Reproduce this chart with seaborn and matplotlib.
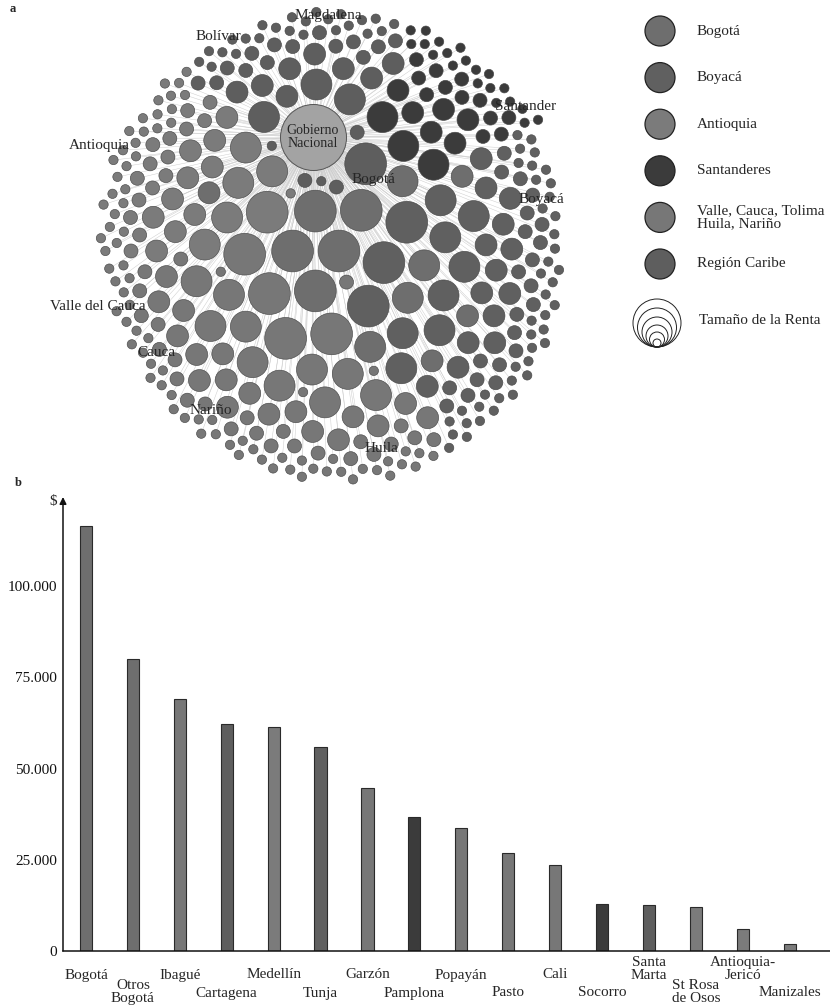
import numpy as np
import pandas as pd
import matplotlib
matplotlib.use("Agg")
import matplotlib.pyplot as plt
import seaborn as sns
from matplotlib.collections import LineCollection

# ---------------- datos ----------------
VALLE = "Valle, Cauca, Tolima\nHuila, Nariño"
regiones = ["Bogotá", "Boyacá", "Antioquia", "Santanderes", VALLE, "Región Caribe"]
grises = ["#6e6e6e", "#606060", "#7b7b7b", "#3b3b3b", "#777777", "#5e5e5e"]

# renta relativa de cada clase de nodo (de mayor a menor)
renta_clases = [40, 22, 11, 4.5, 2]
# número de nodos por clase de renta en cada región
nodos_bogota = [5, 4, 4, 0, 0]
nodos_boyaca = [3, 8, 14, 22, 42]
nodos_antioquia = [1, 5, 10, 15, 30]
nodos_santanderes = [0, 3, 6, 12, 20]
nodos_valle = [4, 10, 18, 25, 50]
nodos_caribe = [1, 3, 8, 17, 26]

etiquetas_red = ["Magdalena", "Bolívar", "Antioquia", "Santander", "Boyacá",
                 "Bogotá", "Valle del Cauca", "Cauca", "Nariño", "Huila"]

ciudades = ["Bogotá", "Otros\nBogotá", "Ibagué", "Cartagena", "Medellín", "Tunja",
            "Garzón", "Pamplona", "Popayán", "Pasto", "Cali", "Socorro",
            "Santa\nMarta", "St Rosa\nde Osos", "Antioquia-\nJericó", "Manizales"]
rentas = [116500, 80000, 69000, 62200, 61400, 55800, 44700, 36700,
          33600, 26800, 23700, 12900, 12700, 12100, 5900, 1900]
region_ciudad = ["Bogotá", "Bogotá", VALLE, "Región Caribe", "Antioquia", "Boyacá",
                 VALLE, "Santanderes", VALLE, VALLE, VALLE, "Santanderes",
                 "Región Caribe", "Antioquia", "Antioquia", "Antioquia"]
nivel_etiqueta = [0, 1, 0, 1, 0, 1, 0, 1, 0, 1, 0, 1, 0, 1, 0, 1]
yticks = [0, 25000, 50000, 75000, 100000]
ytick_labels = ["0", "25.000", "50.000", "75.000", "100.000"]

# ---------------- estilo ----------------
sns.set_theme(style="white")
plt.rcParams["font.family"] = ["Liberation Serif", "DejaVu Serif"]
paleta = dict(zip(regiones, grises))

W, H, DPI = 830, 1007, 100
fig = plt.figure(figsize=(W / DPI, H / DPI), dpi=DPI, facecolor="white")
PX2PT = 72.0 / DPI


def ax_px(x0, y0, w, h):
    """Axes placed in pixel units of the figure (origin top-left)."""
    return fig.add_axes([x0 / W, 1 - (y0 + h) / H, w / W, h / H])


# ---------------- red (panel a) ----------------
conteos = {"Bogotá": nodos_bogota, "Boyacá": nodos_boyaca, "Antioquia": nodos_antioquia,
           "Santanderes": nodos_santanderes, VALLE: nodos_valle,
           "Región Caribe": nodos_caribe}
sectores = {"Bogotá": (0, 360), "Boyacá": (-62, 33), "Antioquia": (130, 180),
            "Santanderes": (33, 72), VALLE: (180, 298), "Región Caribe": (72, 130)}

lista = []
for c, renta in enumerate(renta_clases):
    for reg in regiones:
        lista += [(reg, renta)] * conteos[reg][c]
nodos = pd.DataFrame(lista, columns=["region", "renta"])
nodos["r"] = 3.3 * np.sqrt(nodos["renta"])

HUB_R = 33.0
centro = (26.0, 114.0)     # centro de la nube respecto al nodo central


def empaquetar(radios, sect, centro, fijos, sep=4.0, paso=1.6):
    n = len(radios)
    cap = n + len(fijos)
    P = np.zeros((cap, 2)); R = np.zeros(cap); D = np.zeros(cap)
    k = 0
    for fx, fy, fr in fijos:
        P[k] = (fx, fy); R[k] = fr; D[k] = np.hypot(fx - centro[0], fy - centro[1]); k += 1
    pos = np.zeros((n, 2))
    for i in range(n):
        r = radios[i]
        a0, a1 = np.radians(sect[i][0]), np.radians(sect[i][1])
        mid = 0.5 * (a0 + a1)
        d = 0.0
        while True:
            m = max(1, int(np.ceil((a1 - a0) * d / paso)))
            ang = np.linspace(a0, a1, m) if m > 1 else np.array([mid])
            ang = ang[np.argsort(np.abs(ang - mid), kind="stable")]
            cx = centro[0] + d * np.cos(ang)
            cy = centro[1] - d * np.sin(ang)
            cerca = np.abs(D[:k] - d) < r + R[:k] + sep
            if cerca.any():
                Q = P[:k][cerca]; RQ = R[:k][cerca]
                dd = (cx[:, None] - Q[:, 0]) ** 2 + (cy[:, None] - Q[:, 1]) ** 2
                ok = np.all(dd >= (r + RQ + sep) ** 2, axis=1)
            else:
                ok = np.ones(len(ang), bool)
            if ok.any():
                j = int(np.argmax(ok))
                pos[i] = (cx[j], cy[j])
                P[k] = pos[i]; R[k] = r; D[k] = d; k += 1
                break
            d += paso
    return pos


xy = empaquetar(nodos["r"].to_numpy(), [sectores[g] for g in nodos["region"]],
                centro, [(0.0, 0.0, HUB_R)])
nodos["x"], nodos["y"] = xy[:, 0], xy[:, 1]
nodos["s"] = (2 * nodos["r"] * PX2PT) ** 2

axa = ax_px(0, 0, 620, 495)
axa.set_axis_off()

aristas = LineCollection([[(0, 0), (x, y)] for x, y in xy], colors="#cdcdcd",
                         linewidths=0.35, zorder=1)
axa.add_collection(aristas)
sns.scatterplot(data=nodos, x="x", y="y", hue="region", palette=paleta,
                s=nodos["s"].to_numpy(), edgecolor="#484848", linewidth=0.45,
                legend=False, ax=axa, zorder=3)
axa.scatter([0], [0], s=(2 * HUB_R * PX2PT) ** 2, color="#a3a3a3",
            edgecolor="#555555", linewidth=0.7, zorder=4)
axa.text(0, 0, "Gobierno\nNacional", ha="center", va="center", fontsize=10,
         linespacing=0.95, zorder=5)
axa.set_xlim(-313, 307)
axa.set_ylim(358, -137)

pos_etq = [(15, -122), (-95, -100), (-214, 9), (213, -30), (228, 63),
           (60, 43), (-215, 169), (-157, 216), (-102, 274), (68, 311)]
for t, (x, y) in zip(etiquetas_red, pos_etq):
    axa.text(x, y, t, ha="center", va="center", fontsize=11, zorder=6)

fig.text(10 / W, 1 - 9 / H, "a", fontsize=9, fontweight="bold", ha="left", va="center")

# ---------------- leyenda ----------------
axl = ax_px(620, 0, 210, 495)
axl.set_xlim(0, 210)
axl.set_ylim(495, 0)
axl.set_axis_off()
filas = 31 + 46.6 * np.arange(len(regiones))
axl.scatter(np.full(len(regiones), 40.0), filas, s=(30 * PX2PT) ** 2, c=grises,
            edgecolor="#222222", linewidth=0.9)
for reg, y in zip(regiones, filas):
    axl.text(77, y, reg, ha="left", va="center", fontsize=11, linespacing=0.95)
for rr in [24, 19.5, 15, 11, 7.5, 4]:
    axl.scatter([37], [347 - rr], s=(2 * rr * PX2PT) ** 2, facecolor="none",
                edgecolor="#222222", linewidth=0.7)
axl.text(79, 320, "Tamaño de la Renta", ha="left", va="center", fontsize=11)

# ---------------- barras (panel b) ----------------
axb = ax_px(63, 497, 767, 454)
barras = pd.DataFrame({"ciudad": ciudades, "renta": rentas, "region": region_ciudad})
sns.barplot(data=barras, x="ciudad", y="renta", hue="region", order=ciudades,
            hue_order=regiones, palette=paleta, dodge=False, width=0.26,
            errorbar=None, edgecolor="#2a2a2a", linewidth=0.8, legend=False, ax=axb)
axb.set_xlim(-0.49, 15.86)
axb.set_ylim(0, 124400)
for s in ["top", "right", "left"]:
    axb.spines[s].set_visible(False)
axb.spines["bottom"].set_color("#111111")
axb.spines["bottom"].set_linewidth(1.1)
axb.set_yticks(yticks, ytick_labels)
axb.tick_params(axis="y", length=0, pad=4.3, labelsize=11, labelcolor="#111111")
axb.set_xticks(range(len(ciudades)), [""] * len(ciudades))
axb.tick_params(axis="x", length=0)
axb.set_xlabel("")
axb.set_ylabel("")
axb.annotate("", xy=(0, 1), xycoords="axes fraction", xytext=(0, 0),
             textcoords="axes fraction", annotation_clip=False,
             arrowprops=dict(arrowstyle="-|>", color="#111111", lw=1.1,
                             shrinkA=0, shrinkB=0, mutation_scale=10))
axb.annotate("$", xy=(0, 1), xycoords="axes fraction", xytext=(-10 * PX2PT, -4 * PX2PT),
             textcoords="offset points", ha="center", va="center", fontsize=11,
             annotation_clip=False)

desplaz = {(0, 1): 24, (0, 2): 18, (1, 1): 42, (1, 2): 41}
for i, (c, nv) in enumerate(zip(ciudades, nivel_etiqueta)):
    nl = c.count("\n") + 1
    axb.annotate(c, xy=(i, 0), xycoords=axb.get_xaxis_transform(),
                 xytext=(0, -desplaz[(nv, nl)] * PX2PT), textcoords="offset points",
                 ha="center", va="center", fontsize=11, linespacing=0.95,
                 annotation_clip=False)

fig.text(15 / W, 1 - 483 / H, "b", fontsize=9, fontweight="bold", ha="left", va="center")

fig.savefig("out.png", dpi=DPI, facecolor="white")
